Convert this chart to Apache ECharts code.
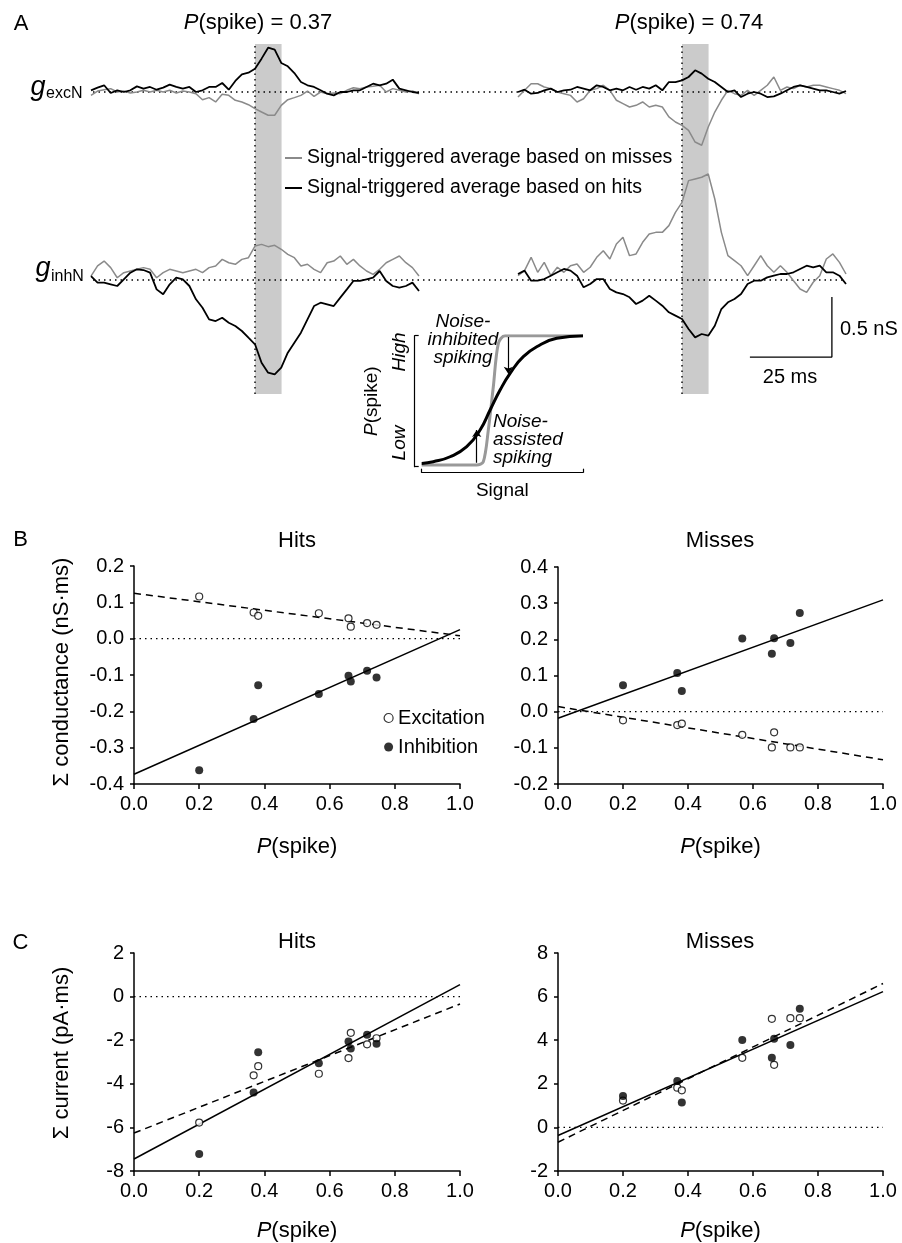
<!DOCTYPE html>
<html>
<head>
    <meta charset="utf-8">
    <style>
        body { margin: 0; background: #fff; }
    </style>
</head>
<body>

<div id="main" style="width: 902px;height:1243px;"></div>
<script src="https://cdn.jsdelivr.net/npm/echarts@6/dist/echarts.min.js"></script>
<script type="text/javascript">
    var FONT = '"Liberation Sans", Arial, Helvetica, sans-serif';
    var MISS_NAME = 'Signal-triggered average based on misses';
    var HIT_NAME = 'Signal-triggered average based on hits';

    // ---- panel A: time (ms, relative to signal) and conductances (nS)
    var tMs = [-50, -48, -46, -44, -42, -40, -38, -36, -34, -32, -30, -28, -26, -24, -22, -20, -18, -16, -14, -12,
        -10, -8, -6, -4, -2, 0, 2, 4, 6, 8, 10, 12, 14, 16, 18, 20, 22, 24, 26, 28, 30, 32, 34, 36, 38, 40, 42, 44, 46, 48, 50];

    // P(spike) = 0.37
    var leftExcHit = [0.014, 0.036, 0.056, -0.008, 0.014, 0, 0.014, 0.047, 0.028, 0.042, 0.019, 0.036, 0.061, 0.042, 0.028, 0.042, 0, 0.014, 0.042, 0.042,
        0.075, 0.019, 0.092, 0.147, 0.161, 0.194, 0.278, 0.369, 0.353, 0.242, 0.214, 0.158, 0.083, 0.056, 0.042, 0.014, -0.014, -0.028, 0, 0,
        0.014, 0.014, 0.042, 0.069, 0.056, 0.069, 0.103, 0.028, 0.014, 0, -0.008];
    var leftExcMiss = [-0.028, 0.008, 0.019, 0.028, 0, 0.008, -0.008, 0, 0.014, 0, 0.014, 0, 0.014, -0.008, 0.008, 0, -0.014, -0.064, -0.047, -0.083,
        -0.019, -0.028, -0.069, -0.083, -0.106, -0.139, -0.167, -0.194, -0.194, -0.111, -0.064, -0.047, -0.028, 0.008, -0.036, 0, -0.014, -0.008, -0.014, 0.014,
        0.036, 0.028, 0.042, 0.047, 0.056, 0, 0.028, 0.014, 0, 0.008, -0.014];
    var leftInhHit = [0.033, -0.022, -0.022, -0.036, -0.05, 0.006, 0.061, 0.089, 0.083, 0.061, -0.078, -0.119, -0.036, 0.019, 0.006, -0.05, -0.161, -0.231, -0.328, -0.342,
        -0.314, -0.356, -0.383, -0.425, -0.481, -0.536, -0.689, -0.772, -0.786, -0.731, -0.606, -0.522, -0.439, -0.328, -0.217, -0.189, -0.203, -0.217, -0.147, -0.078,
        -0.008, -0.008, 0.006, 0.019, 0.075, -0.008, -0.05, -0.064, -0.05, -0.022, -0.092];
    var leftInhMiss = [0.033, 0.117, 0.158, 0.103, 0.019, 0.061, 0.075, 0.089, 0.103, 0.089, 0.019, 0.061, 0.089, 0.075, 0.061, 0.075, 0.089, 0.061, 0.103, 0.117,
        0.172, 0.144, 0.131, 0.172, 0.186, 0.283, 0.297, 0.278, 0.289, 0.256, 0.214, 0.186, 0.117, 0.131, 0.089, 0.061, 0.144, 0.158, 0.2, 0.131,
        0.172, 0.117, 0.075, 0.047, 0.089, 0.144, 0.172, 0.2, 0.144, 0.103, 0.033];

    // P(spike) = 0.74
    var rightExcHit = [0, 0.019, -0.014, -0.008, 0.014, 0.028, 0, 0.014, 0.019, 0.042, 0.028, 0.014, 0.056, 0.042, 0.014, 0.028, 0.014, 0.042, 0.019, 0.042,
        0.028, 0.056, 0.014, 0.083, 0.083, 0.097, 0.125, 0.181, 0.153, 0.111, 0.083, 0.042, 0, 0.014, -0.042, -0.014, 0, -0.014, -0.042, -0.036,
        -0.014, 0.014, 0.042, 0.056, 0.042, 0.028, 0.014, 0.014, 0, -0.014, 0.008];
    var rightExcMiss = [-0.042, 0.014, 0.069, 0.069, 0.042, 0.028, 0, -0.014, -0.028, -0.083, -0.056, 0.014, 0.028, 0.056, 0.014, -0.069, -0.097, -0.125, -0.111, -0.083,
        -0.125, -0.111, -0.125, -0.208, -0.25, -0.278, -0.319, -0.417, -0.444, -0.292, -0.167, -0.069, 0.014, -0.014, -0.028, 0.014, -0.028, 0.014, 0.056, 0.125,
        0.014, 0.042, 0.028, 0.056, 0.042, 0.056, 0.056, 0.042, 0.028, 0.014, -0.014];
    var rightInhHit = [0.05, 0.078, -0.006, -0.006, 0.008, 0.036, 0.064, 0.092, 0.078, 0.036, -0.061, -0.033, 0.008, 0.008, -0.075, -0.103, -0.117, -0.144, -0.2, -0.172,
        -0.131, -0.172, -0.214, -0.269, -0.297, -0.325, -0.408, -0.478, -0.45, -0.464, -0.381, -0.242, -0.186, -0.158, -0.117, -0.033, -0.006, -0.006, 0.022, 0.036,
        0.05, 0.05, 0.064, 0.092, 0.119, 0.106, 0.119, 0.064, 0.064, 0.036, -0.033];
    var rightInhMiss = [0.036, 0.078, 0.189, 0.064, 0.147, 0.036, 0.106, 0.064, 0.119, 0.133, 0.064, 0.106, 0.189, 0.244, 0.175, 0.3, 0.356, 0.203, 0.217, 0.314,
        0.383, 0.397, 0.397, 0.453, 0.564, 0.647, 0.828, 0.842, 0.856, 0.883, 0.675, 0.397, 0.203, 0.161, 0.119, 0.036, 0.119, 0.203, 0.119, 0.064,
        0.119, 0.064, -0.006, -0.075, -0.103, -0.019, 0.036, 0.175, 0.217, 0.147, 0.05];

    var bandEnd = 8.1;                       // ms, shaded window
    var scaleT = [20.7, 45.7, 45.7];         // 25 ms bar
    var scaleV = [-0.642, -0.642, -0.142];   // 0.5 nS bar

    // ---- inset (schematic)
    var insetBlackX = [0, 0.072, 0.176, 0.279, 0.362, 0.424, 0.486, 0.548, 0.63, 0.733, 0.837, 1.0];
    var insetBlackY = [0.025, 0.038, 0.076, 0.153, 0.28, 0.433, 0.585, 0.712, 0.84, 0.929, 0.98, 1.0];
    var insetGrayX = [0, 0.341, 0.382, 0.413, 0.444, 0.475, 0.517, 1.0];
    var insetGrayY = [0.013, 0.013, 0.038, 0.28, 0.61, 0.94, 1.0, 1.0];
    var arrowUp = [[0.341, 0.03], [0.341, 0.28]];
    var arrowDown = [[0.537, 0.99], [0.537, 0.71]];

    // ---- panels B and C
    var pSpike = [0.2, 0.367, 0.381, 0.567, 0.658, 0.665, 0.715, 0.744];

    var bHitsExc = [0.116, 0.072, 0.063, 0.070, 0.056, 0.033, 0.043, 0.038];
    var bHitsInh = [-0.362, -0.221, -0.128, -0.152, -0.102, -0.118, -0.088, -0.107];
    var bMissExc = [-0.024, -0.037, -0.033, -0.064, -0.099, -0.057, -0.099, -0.099];
    var bMissInh = [0.073, 0.107, 0.057, 0.202, 0.160, 0.203, 0.190, 0.273];
    var cHitsExc = [-5.78, -3.61, -3.19, -3.54, -2.82, -1.66, -2.19, -1.91];
    var cHitsInh = [-7.22, -4.40, -2.55, -3.06, -2.06, -2.38, -1.75, -2.16];
    var cMissExc = [1.23, 1.82, 1.70, 3.19, 4.98, 2.87, 5.01, 5.01];
    var cMissInh = [1.44, 2.13, 1.14, 4.01, 3.20, 4.07, 3.78, 5.44];

    var fitX = [0, 1];
    var bHitsExcFit = [0.125, 0.008];
    var bHitsInhFit = [-0.373, 0.025];
    var bMissExcFit = [0.014, -0.133];
    var bMissInhFit = [-0.018, 0.309];
    var cHitsSolidFit = [-7.45, 0.55];
    var cHitsDashFit = [-6.26, -0.34];
    var cMissSolidFit = [-0.37, 6.23];
    var cMissDashFit = [-0.68, 6.6];

    function pairs(xs, ys) {
        return xs.map(function (x, i) { return [x, ys[i]]; });
    }

    var grids = [
        {left: 91, top: 32, width: 328, height: 120},      // 0 left gexc
        {left: 91, top: 160, width: 328, height: 240},     // 1 left ginh
        {left: 518, top: 32, width: 328, height: 120},     // 2 right gexc
        {left: 518, top: 160, width: 328, height: 240},    // 3 right ginh
        {left: 91, top: 44, width: 328, height: 350},      // 4 left band
        {left: 518, top: 44, width: 328, height: 350},     // 5 right band
        {left: 93, top: 32, width: 752, height: 120},      // 6 gexc baseline
        {left: 93, top: 160, width: 752, height: 240},     // 7 ginh baseline
        {left: 421.7, top: 335.7, width: 161.3, height: 131}, // 8 inset
        {left: 134, top: 566, width: 326, height: 218},    // 9 B hits
        {left: 558, top: 567, width: 325, height: 217},    // 10 B misses
        {left: 134, top: 953, width: 326, height: 219},    // 11 C hits
        {left: 558, top: 953, width: 325, height: 218}     // 12 C misses
    ];

    function hidden(g, min, max) {
        return {gridIndex: g, type: 'value', min: min, max: max, show: false};
    }

    var italicP = {i: {fontStyle: 'italic', fontSize: 22, color: '#000', fontFamily: FONT}};

    function plotX(g, gap) {
        return {
            gridIndex: g, type: 'value', min: 0, max: 1, interval: 0.2,
            name: '{i|P}(spike)', nameLocation: 'middle', nameGap: gap,
            nameTextStyle: {fontSize: 22, color: '#000', fontFamily: FONT, rich: italicP},
            axisLine: {onZero: false, lineStyle: {color: '#000', width: 1.5}},
            axisTick: {length: 5, lineStyle: {color: '#000', width: 1.5}},
            axisLabel: {margin: 10, fontSize: 20, color: '#000', fontFamily: FONT,
                formatter: function (v) { return v.toFixed(1); }},
            splitLine: {show: false}
        };
    }

    function plotY(g, min, max, step, digits) {
        return {
            gridIndex: g, type: 'value', min: min, max: max, interval: step,
            axisLine: {show: true, onZero: false, lineStyle: {color: '#000', width: 1.5}},
            axisTick: {show: true, length: 4, lineStyle: {color: '#000', width: 1.5}},
            axisLabel: {margin: 10, fontSize: 20, color: '#000', fontFamily: FONT,
                formatter: function (v) { return v.toFixed(digits); }},
            splitLine: {show: false}
        };
    }

    var xAxes = [
        hidden(0, -50, 50), hidden(1, -50, 50), hidden(2, -50, 50), hidden(3, -50, 50),
        hidden(4, -50, 50), hidden(5, -50, 50), hidden(6, 0, 1), hidden(7, 0, 1),
        {
            gridIndex: 8, type: 'value', min: 0, max: 1, interval: 1, offset: 6,
            name: 'Signal', nameLocation: 'middle', nameGap: 9,
            nameTextStyle: {fontSize: 19, color: '#000', fontFamily: FONT},
            axisLine: {onZero: false, lineStyle: {color: '#000', width: 1.2}},
            axisTick: {inside: true, length: 4, lineStyle: {color: '#000', width: 1.2}},
            axisLabel: {show: false}, splitLine: {show: false}
        },
        plotX(9, 52), plotX(10, 52), plotX(11, 49), plotX(12, 49)
    ];

    var yAxes = [
        hidden(0, -0.5, 0.5), hidden(1, -1, 1), hidden(2, -0.5, 0.5), hidden(3, -1, 1),
        hidden(4, 0, 1), hidden(5, 0, 1), hidden(6, -0.5, 0.5), hidden(7, -1, 1),
        {
            gridIndex: 8, type: 'value', min: 0, max: 1, interval: 1, offset: 7,
            name: '{i|P}(spike)', nameLocation: 'middle', nameGap: 33,
            nameTextStyle: {fontSize: 19, color: '#000', fontFamily: FONT,
                rich: {i: {fontStyle: 'italic', fontSize: 19, color: '#000', fontFamily: FONT}}},
            axisLine: {show: true, onZero: false, lineStyle: {color: '#000', width: 1.2}},
            axisTick: {show: true, inside: true, length: 4, lineStyle: {color: '#000', width: 1.2}},
            axisLabel: {show: false}, splitLine: {show: false}
        },
        plotY(9, -0.4, 0.2, 0.1, 1), plotY(10, -0.2, 0.4, 0.1, 1),
        plotY(11, -8, 2, 2, 0), plotY(12, -2, 8, 2, 0)
    ];

    var series = [];

    function trace(g, ys, name, color, width) {
        series.push({
            type: 'line', name: name, xAxisIndex: g, yAxisIndex: g, data: pairs(tMs, ys),
            symbol: 'none', showSymbol: false, z: 4, silent: true,
            lineStyle: {color: color, width: width}, itemStyle: {color: color}
        });
    }

    function dotted(g, data, z) {
        series.push({
            type: 'line', xAxisIndex: g, yAxisIndex: g, data: data, symbol: 'none', z: z, silent: true,
            lineStyle: {color: '#000', width: 1.4, type: [1.5, 4]}
        });
    }

    // shaded windows
    [4, 5].forEach(function (g) {
        series.push({
            type: 'line', xAxisIndex: g, yAxisIndex: g, data: [], z: 0, silent: true,
            markArea: {silent: true, itemStyle: {color: '#cbcbcb'},
                data: [[{xAxis: 0, yAxis: 0}, {xAxis: bandEnd, yAxis: 1}]]}
        });
        dotted(g, [[0, 0], [0, 1]], 2);
    });
    dotted(6, [[0, 0], [1, 0]], 1);
    dotted(7, [[0, 0], [1, 0]], 1);

    var GRAY = '#8a8a8a';
    trace(0, leftExcMiss, MISS_NAME, GRAY, 1.5);
    trace(0, leftExcHit, HIT_NAME, '#000', 1.8);
    trace(1, leftInhMiss, MISS_NAME, GRAY, 1.5);
    trace(1, leftInhHit, HIT_NAME, '#000', 1.8);
    trace(2, rightExcMiss, MISS_NAME, GRAY, 1.5);
    trace(2, rightExcHit, HIT_NAME, '#000', 1.8);
    trace(3, rightInhMiss, MISS_NAME, GRAY, 1.5);
    trace(3, rightInhHit, HIT_NAME, '#000', 1.8);

    series.push({
        type: 'line', xAxisIndex: 3, yAxisIndex: 3, data: pairs(scaleT, scaleV), symbol: 'none', silent: true,
        lineStyle: {color: '#000', width: 1.3}
    });

    // inset
    series.push({
        type: 'line', xAxisIndex: 8, yAxisIndex: 8, data: pairs(insetGrayX, insetGrayY), symbol: 'none',
        smooth: 0.3, silent: true, lineStyle: {color: '#999', width: 3}
    });
    series.push({
        type: 'line', xAxisIndex: 8, yAxisIndex: 8, data: pairs(insetBlackX, insetBlackY), symbol: 'none',
        smooth: 0.5, silent: true, lineStyle: {color: '#000', width: 3}
    });
    series.push({
        type: 'lines', coordinateSystem: 'cartesian2d', xAxisIndex: 8, yAxisIndex: 8, silent: true,
        symbol: ['none', 'arrow'], symbolSize: 7, z: 5,
        lineStyle: {color: '#000', width: 1.2, opacity: 1},
        data: [{coords: arrowUp}, {coords: arrowDown}]
    });

    function fitLine(g, ys, dashed) {
        series.push({
            type: 'line', xAxisIndex: g, yAxisIndex: g, data: pairs(fitX, ys), symbol: 'none', silent: true, z: 3,
            lineStyle: {color: '#000', width: 1.5, type: dashed ? [7, 5] : 'solid'}
        });
    }

    function dots(g, ys, open) {
        series.push({
            type: 'scatter', name: open ? 'Excitation' : 'Inhibition', xAxisIndex: g, yAxisIndex: g,
            data: pairs(pSpike, ys), symbol: 'circle', symbolSize: open ? 7 : 8, z: 6, silent: true,
            itemStyle: open ? {color: '#fff', borderColor: '#000', borderWidth: 1.2} : {color: '#000'}
        });
    }

    [9, 10, 11, 12].forEach(function (g) { dotted(g, [[0, 0], [1, 0]], 2); });

    fitLine(9, bHitsExcFit, true);
    fitLine(9, bHitsInhFit, false);
    dots(9, bHitsExc, true);
    dots(9, bHitsInh, false);

    fitLine(10, bMissExcFit, true);
    fitLine(10, bMissInhFit, false);
    dots(10, bMissExc, true);
    dots(10, bMissInh, false);

    fitLine(11, cHitsDashFit, true);
    fitLine(11, cHitsSolidFit, false);
    dots(11, cHitsExc, true);
    dots(11, cHitsInh, false);

    fitLine(12, cMissDashFit, true);
    fitLine(12, cMissSolidFit, false);
    dots(12, cMissExc, true);
    dots(12, cMissInh, false);

    function txt(x, y, text, size, opts) {
        opts = opts || {};
        return {
            type: 'text', x: x, y: y, rotation: opts.rotation || 0, silent: true,
            style: {
                text: text, fill: '#000', fontSize: size, fontFamily: FONT,
                fontStyle: opts.italic ? 'italic' : 'normal',
                align: opts.align || 'center', verticalAlign: 'middle',
                lineHeight: opts.lineHeight, rich: opts.rich
            }
        };
    }

    var richP = {i: {fontStyle: 'italic', fontSize: 22, fill: '#000', fontFamily: FONT}};

    var graphics = [
        txt(21, 24, 'A', 22), txt(20.5, 540, 'B', 22), txt(20.5, 943, 'C', 22),
        txt(258, 23, '{i|P}(spike) = 0.37', 22, {rich: richP}),
        txt(689, 23, '{i|P}(spike) = 0.74', 22, {rich: richP}),
        txt(38, 87, 'g', 27, {italic: true}),
        txt(46, 93.5, 'excN', 16, {align: 'left'}),
        txt(43, 268.5, 'g', 27, {italic: true}),
        txt(51, 276.5, 'inhN', 16, {align: 'left'}),
        txt(840, 329, '0.5 nS', 20, {align: 'left'}),
        txt(790, 377, '25 ms', 20),
        txt(463, 340, 'Noise-\ninhibited\nspiking', 19, {italic: true, lineHeight: 18}),
        txt(493, 440, 'Noise-\nassisted\nspiking', 19, {italic: true, align: 'left', lineHeight: 18}),
        txt(400, 352, 'High', 19, {italic: true, rotation: Math.PI / 2}),
        txt(400, 443, 'Low', 19, {italic: true, rotation: Math.PI / 2}),
        txt(297, 541, 'Hits', 22), txt(720, 541, 'Misses', 22),
        txt(297, 942, 'Hits', 22), txt(720, 942, 'Misses', 22),
        txt(62, 672, '\u03a3 conductance (nS\u00b7ms)', 22, {rotation: Math.PI / 2}),
        txt(62, 1053, '\u03a3 current (pA\u00b7ms)', 22, {rotation: Math.PI / 2})
    ];

    var option = {
        backgroundColor: '#fff',
        animation: false,
        textStyle: {fontFamily: FONT},
        grid: grids,
        xAxis: xAxes,
        yAxis: yAxes,
        legend: [
            {
                left: 285, top: 148, padding: 0, orient: 'vertical', itemWidth: 17, itemHeight: 2, itemGap: 10,
                selectedMode: false,
                data: [{name: MISS_NAME, icon: 'rect'}, {name: HIT_NAME, icon: 'rect'}],
                textStyle: {fontSize: 19.5, color: '#000', fontFamily: FONT}
            },
            {
                left: 383.5, top: 708, padding: 0, orient: 'vertical', itemWidth: 9, itemHeight: 9, itemGap: 9,
                selectedMode: false,
                data: [
                    {name: 'Excitation', icon: 'circle', itemStyle: {color: '#fff', borderColor: '#000', borderWidth: 1.2}},
                    {name: 'Inhibition', icon: 'circle', itemStyle: {color: '#000'}}
                ],
                textStyle: {fontSize: 20, color: '#000', fontFamily: FONT}
            }
        ],
        graphic: graphics,
        series: series
    };

    var myChart = echarts.init(document.getElementById('main'));
    myChart.setOption(option);
</script>
</body>
</html>
